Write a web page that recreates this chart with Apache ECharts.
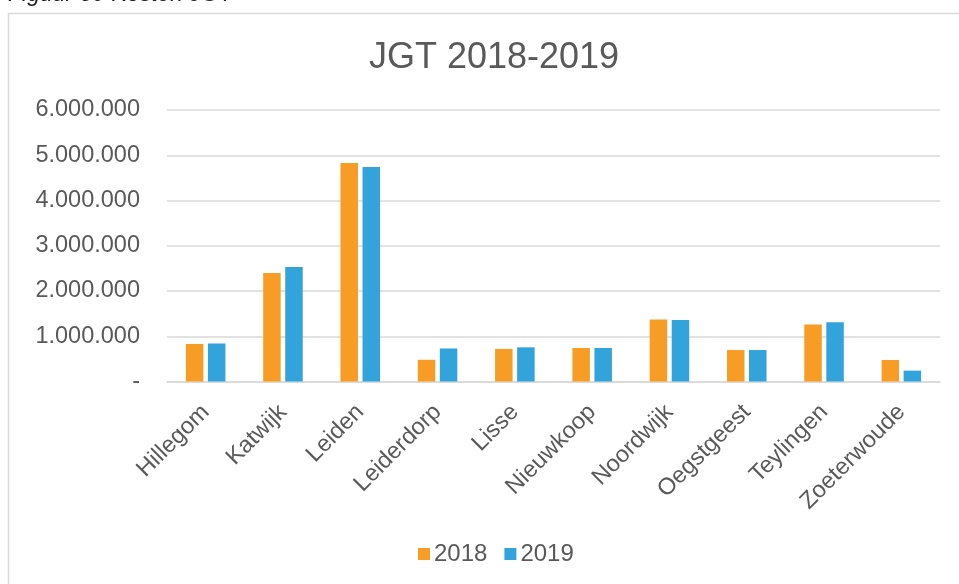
<!DOCTYPE html>
<html>
<head>
<meta charset="utf-8">
<title>JGT 2018-2019</title>
<script src="https://cdn.jsdelivr.net/npm/echarts@6/dist/echarts.min.js"></script>
<style>
  html, body { margin: 0; padding: 0; background: #ffffff; }
  #chart { width: 959px; height: 584px; }
</style>
</head>
<body>
<div id="chart"></div>
<script>
// Municipalities
const categories = ['Hillegom', 'Katwijk', 'Leiden', 'Leiderdorp', 'Lisse', 'Nieuwkoop', 'Noordwijk', 'Oegstgeest', 'Teylingen', 'Zoeterwoude'];
// Costs per year (euro)
const costs2018 = [830000, 2400000, 4830000, 480000, 720000, 740000, 1370000, 695000, 1260000, 475000];
const costs2019 = [840000, 2530000, 4740000, 730000, 755000, 740000, 1360000, 695000, 1310000, 240000];
const seriesNames = ['2018', '2019'];

const FONT = '"Liberation Sans", Arial, sans-serif';
const TEXT = '#595959';
const GRID = '#d9d9d9';

// Dutch thousands separators, zero shown as a dash
function formatAmount(v) {
  if (v === 0) return '-';
  return String(Math.round(v)).replace(/\B(?=(\d{3})+(?!\d))/g, '.');
}

const chart = echarts.init(document.getElementById('chart'), null, { renderer: 'canvas' });

chart.setOption({
  animation: false,
  backgroundColor: '#ffffff',
  textStyle: { fontFamily: FONT },
  graphic: [
    {
      type: 'text',
      left: 8,
      top: -17,
      style: {
        text: 'Figuur 30 Kosten JGT',
        font: 'italic 23px ' + FONT,
        fill: '#1a1a1a'
      }
    },
    {
      type: 'rect',
      shape: { x: 8.5, y: 13.5, width: 964, height: 600 },
      style: { fill: 'none', stroke: GRID, lineWidth: 1.5 },
      silent: true
    }
  ],
  title: {
    text: 'JGT 2018-2019',
    left: 489,
    textAlign: 'center',
    top: 35,
    textStyle: { fontFamily: FONT, fontSize: 36, fontWeight: 'normal', color: TEXT }
  },
  legend: {
    data: seriesNames,
    bottom: 13,
    left: 413,
    icon: 'rect',
    itemWidth: 12,
    itemHeight: 12,
    itemGap: 17,
    textStyle: { fontFamily: FONT, fontSize: 24, color: TEXT, padding: [0, 0, 0, -1] }
  },
  grid: { left: 167, right: 19, top: 110, bottom: 202.5, containLabel: false },
  xAxis: {
    type: 'category',
    data: categories,
    axisLine: { show: true, lineStyle: { color: GRID, width: 1.5 } },
    axisTick: { show: false },
    axisLabel: {
      rotate: 45,
      margin: 27,
      interval: 0,
      fontFamily: FONT,
      fontSize: 23.5,
      color: TEXT
    }
  },
  yAxis: {
    type: 'value',
    min: 0,
    max: 6000000,
    interval: 1000000,
    axisLine: { show: false },
    axisTick: { show: false },
    splitLine: { lineStyle: { color: GRID, width: 1.5 } },
    axisLabel: {
      margin: 27,
      fontFamily: FONT,
      fontSize: 23.5,
      color: TEXT,
      formatter: formatAmount
    }
  },
  series: [
    {
      name: seriesNames[0],
      type: 'bar',
      data: costs2018,
      barWidth: 17.5,
      barGap: '26%',
      itemStyle: { color: '#f79d26' }
    },
    {
      name: seriesNames[1],
      type: 'bar',
      data: costs2019,
      barWidth: 17.5,
      barGap: '26%',
      itemStyle: { color: '#33a3db' }
    }
  ]
});
</script>
</body>
</html>
